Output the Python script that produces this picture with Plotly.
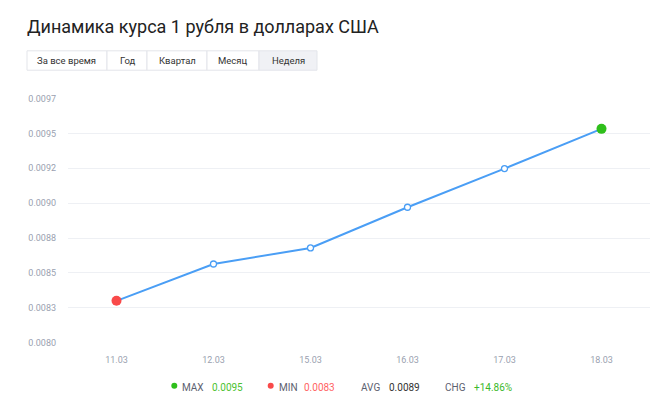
import plotly.graph_objects as go

# ---- data ----
dates = ["11.03", "12.03", "15.03", "16.03", "17.03", "18.03"]
rates = [0.00830, 0.008564, 0.008679, 0.008971, 0.009248, 0.009533]
y_tick_vals = [0.0080, 0.00825, 0.0085, 0.00875, 0.0090, 0.00925, 0.0095, 0.00975]
y_tick_text = ["0.0080", "0.0083", "0.0085", "0.0088", "0.0090", "0.0092", "0.0095", "0.0097"]
periods = ["За все время", "Год", "Квартал", "Месяц", "Неделя"]
selected_period = "Неделя"
title_text = "Динамика курса 1 рубля в долларах США"

W, H = 670, 414
OFFX = 8           # page offset of the figure (horizontal)
OFFY = 12          # effective vertical offset
HR = 406           # effective rendered height

def px(x):
    return (x - OFFX) / W

def py(y):
    return 1 - (y - OFFY) / HR

BLUE = "#4a9ef5"
RED = "#f94a4a"
GREEN = "#2fbf1b"
GRID = "#eef0f4"
TICK = "#9a9fb0"
FONT = "Roboto, 'Open Sans', sans-serif"

imin = rates.index(min(rates))
imax = rates.index(max(rates))

fig = go.Figure()
fig.add_trace(go.Scatter(
    x=dates, y=rates, mode="lines+markers",
    line=dict(color=BLUE, width=2),
    marker=dict(size=6, color="white", line=dict(color=BLUE, width=1.3)),
    hoverinfo="skip", showlegend=False,
))
fig.add_trace(go.Scatter(
    x=[dates[imin]], y=[rates[imin]], mode="markers",
    marker=dict(size=10, color=RED), showlegend=False, hoverinfo="skip",
))
fig.add_trace(go.Scatter(
    x=[dates[imax]], y=[rates[imax]], mode="markers",
    marker=dict(size=10, color=GREEN), showlegend=False, hoverinfo="skip",
))

shapes = []
annotations = []

# title
annotations.append(dict(
    x=px(25), y=py(26), xref="paper", yref="paper", xanchor="left", yanchor="middle",
    text=title_text, showarrow=False,
    font=dict(family=FONT, size=18, color="#222222"),
))

# period buttons
edges = [27, 107, 147, 207, 259, 317]
for i, label in enumerate(periods):
    x0, x1 = edges[i], edges[i + 1]
    sel = label == selected_period
    shapes.append(dict(
        type="rect", xref="paper", yref="paper",
        x0=px(x0), x1=px(x1), y0=py(69.5), y1=py(50),
        fillcolor="#f0f1f5" if sel else "white",
        line=dict(color="#e3e5ea", width=1), layer="below",
    ))
    annotations.append(dict(
        x=px((x0 + x1) / 2), y=py(60), xref="paper", yref="paper",
        xanchor="center", yanchor="middle", text=label, showarrow=False,
        font=dict(family=FONT, size=9.5, color="#333333"),
    ))

# side panel fragment on right
for seg in [((662.5, 255), (662.5, 430)), ((662.5, 288), (680, 288)), ((662.5, 255), (680, 255))]:
    (xa, ya), (xb, yb) = seg
    shapes.append(dict(type="line", xref="paper", yref="paper",
                       x0=px(xa), x1=px(xb), y0=py(ya), y1=py(yb),
                       line=dict(color="#eceef2", width=1)))

# stats row
avg = sum(rates) / len(rates)
chg = (rates[-1] / rates[0] - 1) * 100
sy = py(388)
for cx, col in [(174.3, GREEN), (270.7, RED)]:
    shapes.append(dict(type="circle", xref="paper", yref="paper",
                       x0=px(cx - 3), x1=px(cx + 3), y0=py(386.5 + 3), y1=py(386.5 - 3),
                       fillcolor=col, line=dict(width=0)))
stats = [
    (181.7, "MAX", "#5c6170"),
    (211.7, f"{max(rates):.4f}", "#4cc231"),
    (279.0, "MIN", "#5c6170"),
    (304.0, f"{min(rates):.4f}", "#ff6464"),
    (360.7, "AVG", "#5c6170"),
    (389.0, f"{avg:.4f}", "#333333"),
    (445.3, "CHG", "#5c6170"),
    (474.0, f"+{chg:.2f}%", "#3cb82a"),
]
for x, t, c in stats:
    annotations.append(dict(
        x=px(x - 2), y=sy, xref="paper", yref="paper", xanchor="left", yanchor="middle",
        text=t, showarrow=False, font=dict(family=FONT, size=10, color=c),
    ))

fig.update_layout(
    width=W, height=H,
    margin=dict(l=0, r=0, t=0, b=0),
    paper_bgcolor="white", plot_bgcolor="white",
    shapes=shapes, annotations=annotations,
    xaxis=dict(
        domain=[px(68), px(650)], type="category", range=[-0.5, 5.5],
        showgrid=False, zeroline=False, showline=False, ticks="",
        tickfont=dict(family=FONT, size=9, color=TICK),
        ticklabelstandoff=10, fixedrange=True,
    ),
    yaxis=dict(
        domain=[py(343.3), py(98)], range=[0.0079999, 0.0097501],
        tickvals=y_tick_vals, ticktext=y_tick_text,
        showgrid=True, gridcolor=GRID, gridwidth=1, zeroline=False, showline=False,
        ticks="", tickfont=dict(family=FONT, size=9, color=TICK),
        ticklabelstandoff=11, fixedrange=True,
    ),
)

fig.write_html("out.html")
